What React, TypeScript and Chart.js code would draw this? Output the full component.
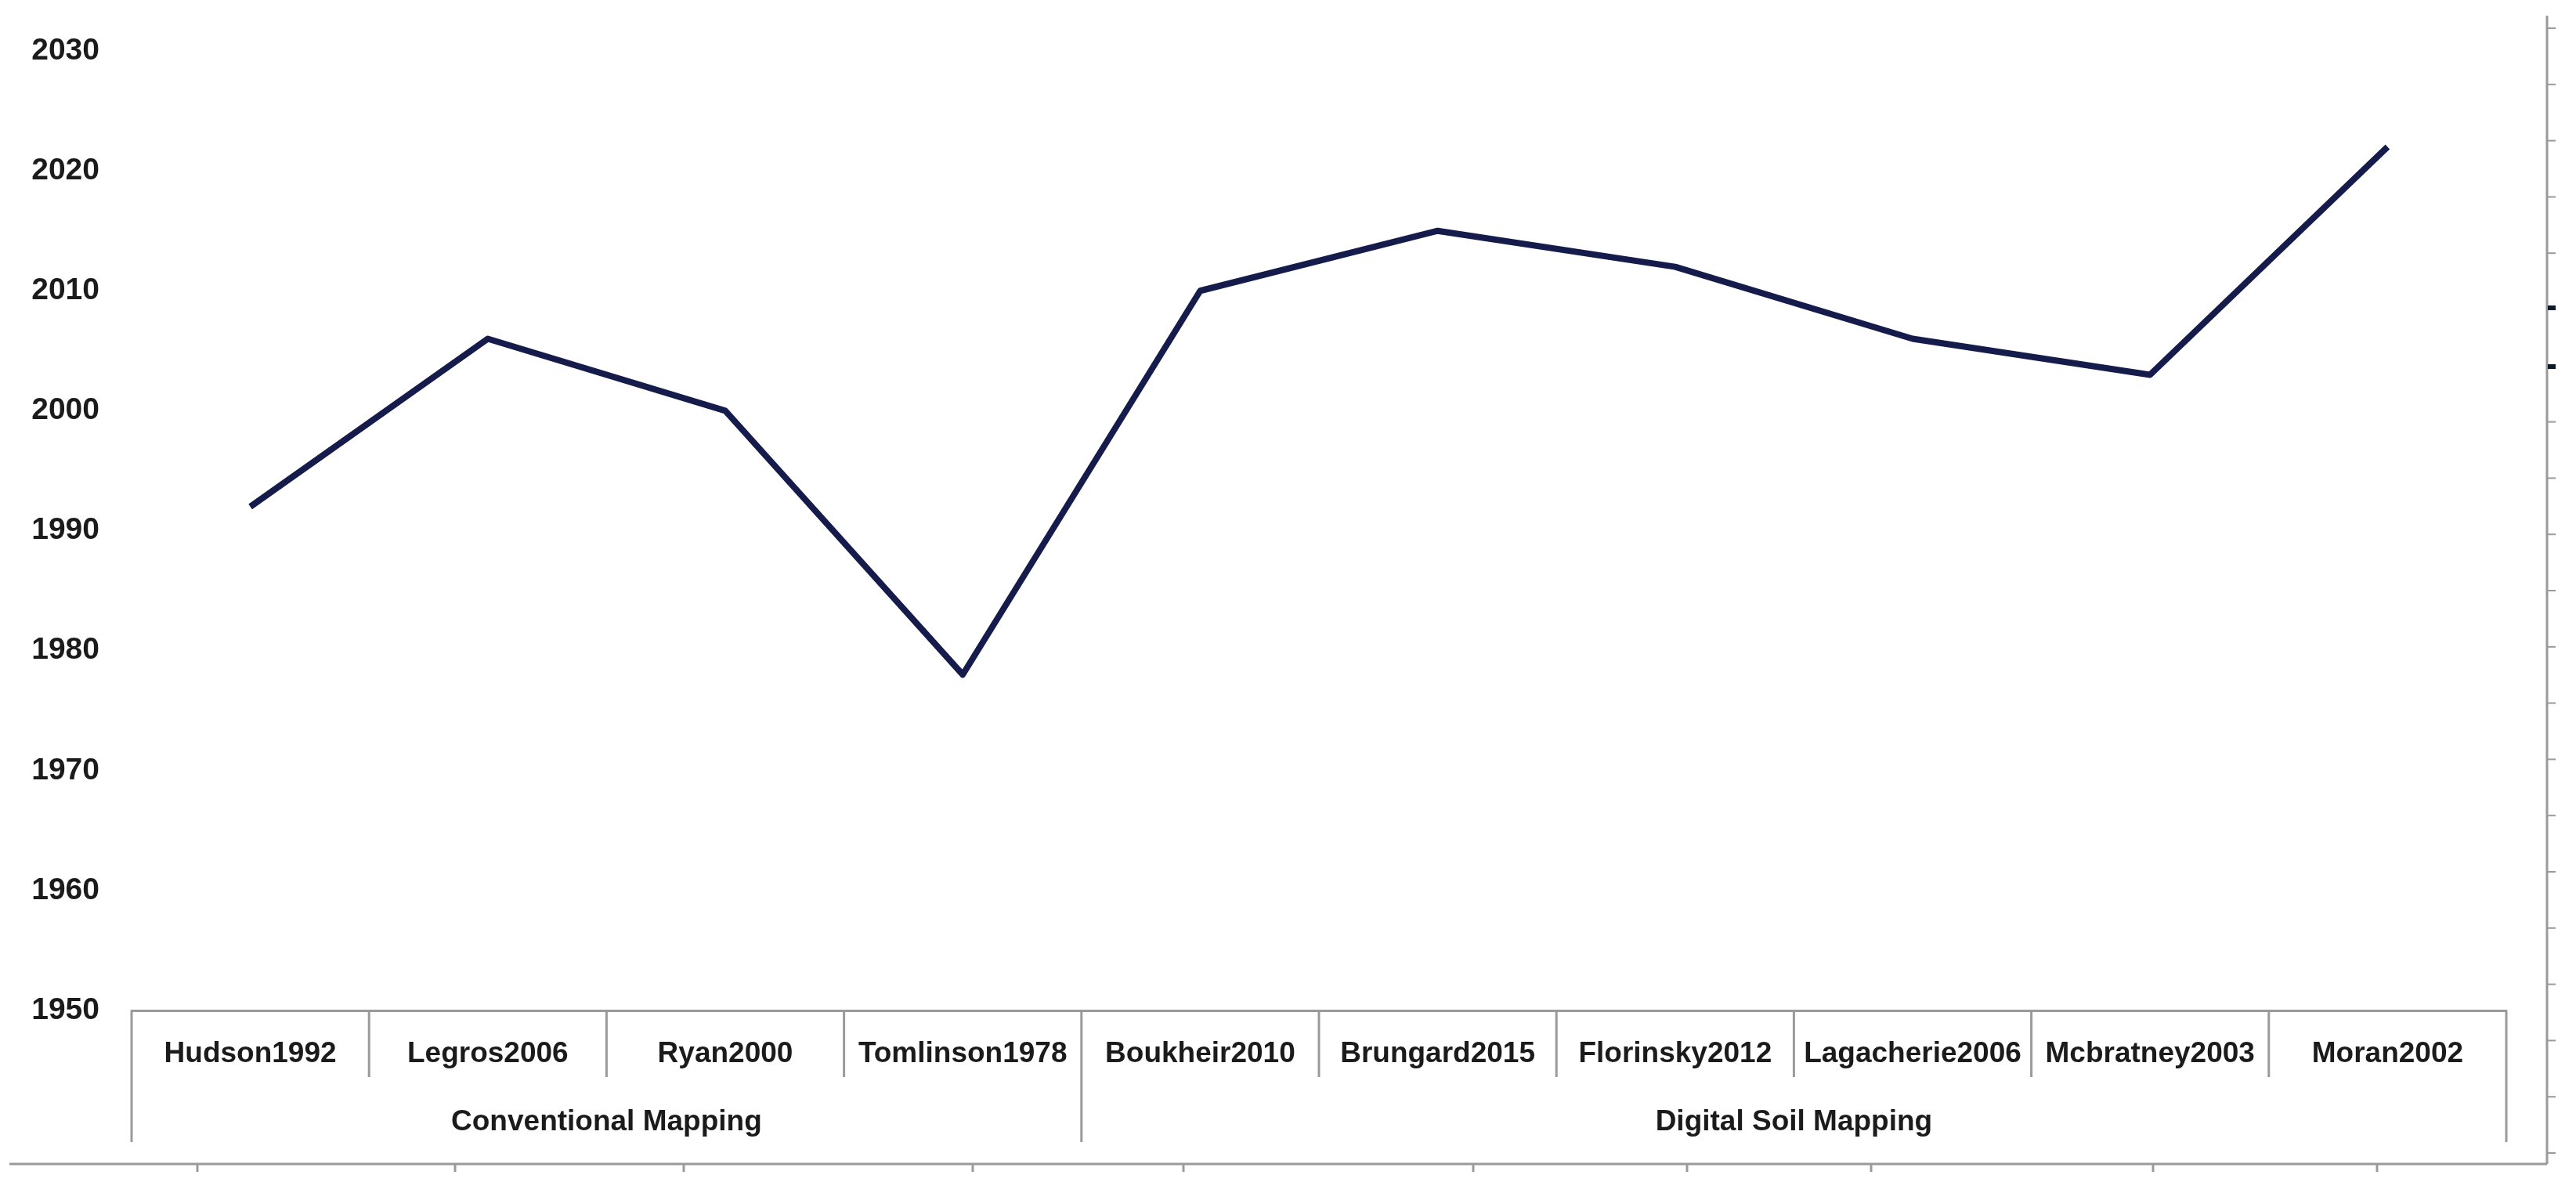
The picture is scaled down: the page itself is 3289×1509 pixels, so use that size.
import React, { useEffect, useRef } from "react";
import { Chart, registerables } from "chart.js";

Chart.register(...registerables);

const categories = [
  "Hudson1992",
  "Legros2006",
  "Ryan2000",
  "Tomlinson1978",
  "Boukheir2010",
  "Brungard2015",
  "Florinsky2012",
  "Lagacherie2006",
  "Mcbratney2003",
  "Moran2002",
];
const years = [1992, 2006, 2000, 1978, 2010, 2015, 2012, 2006, 2003, 2022];
const groupLabels = ["Conventional Mapping", "Digital Soil Mapping"];
const groupSizes = [4, 6];
const yMin = 1950;
const yMax = 2030;
const yStep = 10;

const W = 3289;
const H = 1509;
const FONT = "'Liberation Sans', Arial, sans-serif";
const GRAY = "#9a9a9a";
const TEXT = "#1b1b1b";
const LINE = "#151c4c";

// decorative frame artefacts seen in the source image
const bottomRuleTicksX = [252, 581, 873, 1242, 1511, 1881, 2154, 2389, 2749, 3035];

const multiLevelAxis = {
  id: "multiLevelAxis",
  afterDraw(chart: any) {
    const ctx = chart.ctx;
    const x = chart.scales.x;
    const area = chart.chartArea;
    const n = categories.length;
    const step = (area.right - area.left) / n;
    const top = area.bottom;
    const shortLen = 85;
    const longLen = 168;

    ctx.save();
    ctx.strokeStyle = GRAY;
    ctx.lineWidth = 3;
    const groupEdges = new Set<number>();
    let acc = 0;
    groupEdges.add(0);
    groupSizes.forEach((s) => {
      acc += s;
      groupEdges.add(acc);
    });
    for (let i = 0; i <= n; i++) {
      const bx = area.left + i * step;
      const len = groupEdges.has(i) ? longLen : shortLen;
      ctx.beginPath();
      ctx.moveTo(bx, top);
      ctx.lineTo(bx, top + len);
      ctx.stroke();
    }

    // category labels
    ctx.fillStyle = TEXT;
    ctx.font = `bold 37px ${FONT}`;
    ctx.textAlign = "center";
    ctx.textBaseline = "middle";
    categories.forEach((c, i) => {
      ctx.fillText(c, x.getPixelForValue(i), top + 56);
    });

    // group labels
    let start = 0;
    groupLabels.forEach((g, gi) => {
      const end = start + groupSizes[gi];
      const cx = area.left + ((start + end) / 2) * step;
      ctx.fillText(g, cx, top + 143);
      start = end;
    });

    // outer frame artefacts: bottom rule and right rule with ticks
    const ruleY = 1486;
    const ruleX = 3252;
    ctx.strokeStyle = GRAY;
    ctx.lineWidth = 3;
    ctx.beginPath();
    ctx.moveTo(12, ruleY);
    ctx.lineTo(ruleX, ruleY);
    ctx.stroke();
    bottomRuleTicksX.forEach((tx) => {
      ctx.beginPath();
      ctx.moveTo(tx, ruleY);
      ctx.lineTo(tx, ruleY + 10);
      ctx.stroke();
    });
    ctx.beginPath();
    ctx.moveTo(ruleX, 20);
    ctx.lineTo(ruleX, ruleY);
    ctx.stroke();
    ctx.lineWidth = 2;
    for (let k = 0; k <= 20; k++) {
      const ty = 36 + k * 71.8;
      ctx.beginPath();
      ctx.moveTo(ruleX, ty);
      ctx.lineTo(ruleX + 11, ty);
      ctx.stroke();
    }
    ctx.fillStyle = "#0b1a2a";
    [393, 468].forEach((ty) => ctx.fillRect(ruleX + 1, ty - 3, 10, 6));
    ctx.restore();
  },
};

export default function App() {
  const ref = useRef<HTMLCanvasElement | null>(null);
  useEffect(() => {
    if (!ref.current) return;
    const chart = new Chart(ref.current, {
      type: "line",
      data: {
        labels: categories,
        datasets: [
          {
            data: years,
            borderColor: LINE,
            backgroundColor: LINE,
            borderWidth: 8,
            pointRadius: 0,
            tension: 0,
            borderJoinStyle: "round",
            borderCapStyle: "butt",
          },
        ],
      },
      options: {
        responsive: false,
        animation: false,
        devicePixelRatio: 1,
        layout: { padding: { top: 65, right: 89, left: 0, bottom: 0 } },
        plugins: {
          legend: { display: false },
          tooltip: { enabled: false },
          title: { display: false },
        },
        scales: {
          x: {
            type: "category",
            offset: true,
            ticks: { display: false },
            grid: { display: false, drawTicks: false },
            border: { display: true, color: GRAY, width: 3 },
            afterFit: (s: any) => {
              s.height = 219;
            },
          },
          y: {
            min: yMin,
            max: yMax,
            ticks: {
              stepSize: yStep,
              padding: 41,
              color: TEXT,
              font: { family: FONT, size: 39, weight: "bold" },
              callback: (v: any) => String(v),
            },
            grid: { display: false, drawTicks: false },
            border: { display: false },
            afterFit: (s: any) => {
              s.width = 168;
            },
          },
        },
      },
      plugins: [multiLevelAxis],
    } as any);
    return () => chart.destroy();
  }, []);
  return (
    <div style={{ position: "fixed", left: 0, top: 0, width: W, height: H, background: "#fff" }}>
      <canvas ref={ref} width={W} height={H} style={{ display: "block" }} />
    </div>
  );
}
